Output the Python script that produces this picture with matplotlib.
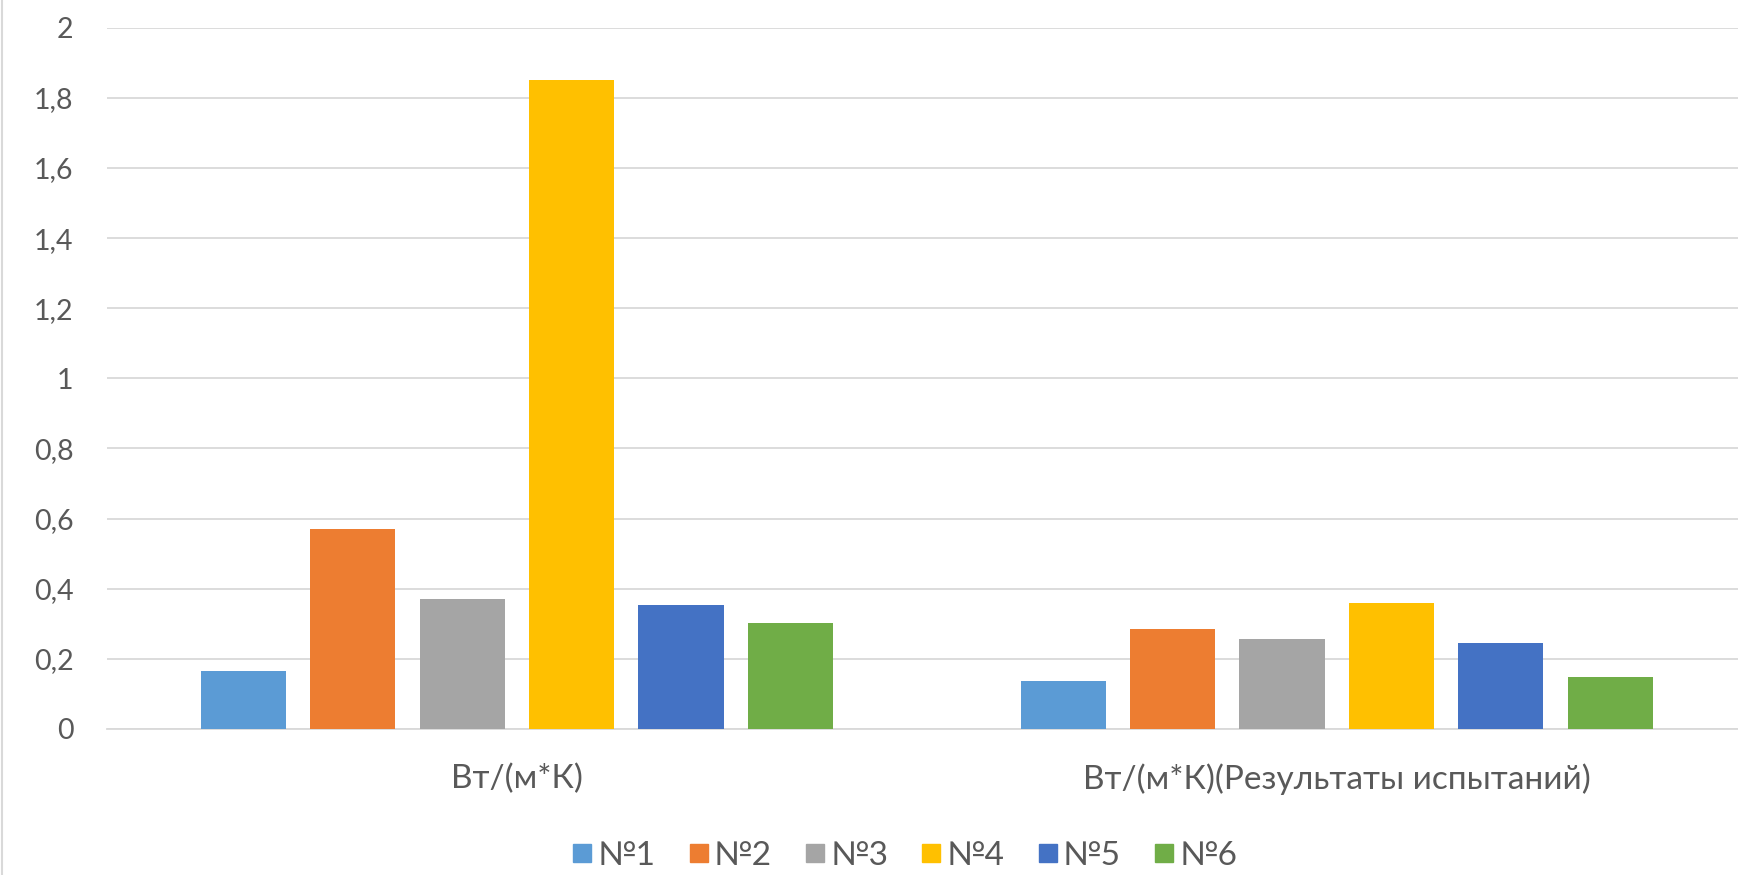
import numpy as np
from matplotlib import pyplot as plt
from matplotlib.lines import Line2D

plt.rcParams['font.family'] = ['Lato', 'DejaVu Sans']

categories = ["Вт/(м*К)", "Вт/(м*К)(Результаты испытаний)"]
series_names = ["№1", "№2", "№3", "№4", "№5", "№6"]
values = {
    "№1": [0.166, 0.137],
    "№2": [0.569, 0.285],
    "№3": [0.371, 0.257],
    "№4": [1.85, 0.358],
    "№5": [0.354, 0.245],
    "№6": [0.302, 0.149],
}
colors = ["#5B9BD5", "#ED7D31", "#A5A5A5", "#FFC000", "#4472C4", "#70AD47"]
yticks = [0, 0.2, 0.4, 0.6, 0.8, 1, 1.2, 1.4, 1.6, 1.8, 2]

fig = plt.figure(figsize=(17.38, 8.75), dpi=100)
ax = fig.add_axes([0.0615, 0.1669, 0.9435, 0.8014])

x = np.arange(len(categories))
slot = 0.1334
width = 0.104
for i, name in enumerate(series_names):
    ax.bar(x + (i - 2.5) * slot, values[name], width, color=colors[i], label=name, zorder=3)

ax.set_xlim(-0.5, 1.5)
ax.set_ylim(0, 2)
ax.set_yticks(yticks)
ax.set_yticklabels([f"{t:g}".replace(".", ",") for t in yticks])
ax.set_xticks(x)
ax.set_xticklabels(categories)
ax.tick_params(axis="y", length=0, pad=24, labelsize=20.5, labelcolor="#595959")
ax.tick_params(axis="x", length=0, pad=25, labelsize=24, labelcolor="#595959")
ax.grid(axis="y", color="#D9D9D9", linewidth=1.3, zorder=0)
for s in ["top", "right", "left"]:
    ax.spines[s].set_visible(False)
ax.spines["bottom"].set_color("#D9D9D9")
ax.spines["bottom"].set_linewidth(1.3)

handles = [Line2D([], [], marker="s", linestyle="none", markersize=13,
                  markerfacecolor=c, markeredgecolor=c) for c in colors]
fig.legend(handles, series_names, loc="center", bbox_to_anchor=(0.5196, 0.022),
           ncol=6, frameon=False, fontsize=24, labelcolor="#595959",
           handletextpad=0.05, columnspacing=0.9, handlelength=0.8)

# chart border on the left edge
fig.add_artist(Line2D([0.001, 0.001], [0, 1], color="#D9D9D9", linewidth=1.5,
                      transform=fig.transFigure))

fig.savefig("out.png", dpi=100)
